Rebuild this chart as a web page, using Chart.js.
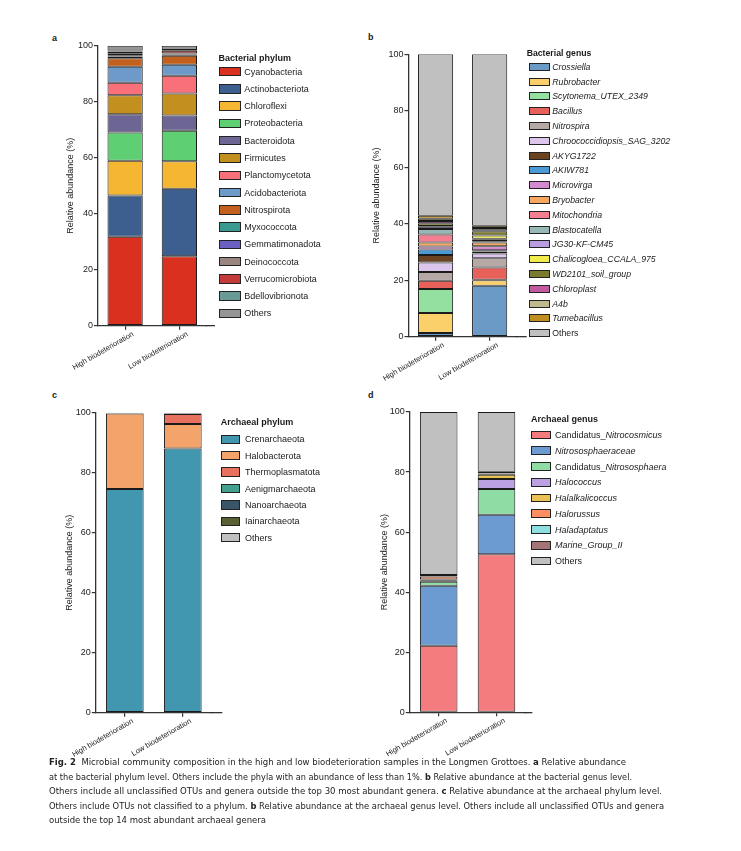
<!DOCTYPE html>
<html><head><meta charset="utf-8">
<script src="https://cdn.jsdelivr.net/npm/chart.js@4.4.1/dist/chart.umd.min.js"></script>
<style>
html,body{margin:0;padding:0;background:#fff;}
body{width:741px;height:851px;position:relative;overflow:hidden;font-family:"Liberation Sans",Arial,sans-serif;color:#1a1a1a;}
canvas{position:absolute;}
.plabel{position:absolute;font-weight:bold;font-size:9px;line-height:10px;}
.lt{position:absolute;font-weight:bold;white-space:nowrap;font-size:9px;height:12px;line-height:12px;}
.li{position:absolute;white-space:nowrap;font-size:9px;height:12px;line-height:12px;}
.bx{position:absolute;box-sizing:border-box;border:1px solid #222;}
.cap{position:absolute;white-space:nowrap;font-family:"Liberation Sans Narrow","DejaVu Sans Condensed",sans-serif;font-size:9.5px;line-height:12px;height:12px;transform-origin:0 50%;color:#222;}
</style></head><body>
<div class="plabel" style="left:52px;top:33px">a</div>
<div class="plabel" style="left:368px;top:32px">b</div>
<div class="plabel" style="left:52px;top:390px">c</div>
<div class="plabel" style="left:368px;top:390px">d</div>
<canvas id="ca"></canvas><canvas id="cb"></canvas><canvas id="cc"></canvas><canvas id="cd"></canvas>
<div id="legends"></div>
<div id="caption"></div>
<script>
// ---------- DATA ----------
const samples = ['High biodeterioration', 'Low biodeterioration'];
const yTicks = [0, 20, 40, 60, 80, 100];

// a: bacterial phylum
const phylumNames = ['Cyanobacteria','Actinobacteriota','Chloroflexi','Proteobacteria','Bacteroidota','Firmicutes','Planctomycetota','Acidobacteriota','Nitrospirota','Myxococcota','Gemmatimonadota','Deinococcota','Verrucomicrobiota','Bdellovibrionota','Others'];
const phylumHigh = [31.8, 14.7, 12.4, 10.1, 6.5, 6.8, 4.5, 5.7, 3.0, 0.6, 0.5, 0.7, 0.6, 0.4, 1.7];
const phylumLow  = [24.8, 24.1, 9.8, 10.9, 5.5, 7.8, 6.4, 3.9, 3.2, 0.3, 0.2, 0.3, 1.0, 0.3, 1.5];
const phylumColors = ['#d9301f','#3d5f8f','#f5b731','#5fcf74','#6d6593','#c39020','#f7707a','#6d9ac9','#c3601d','#3a9a91','#6b5fc2','#9a8580','#c33a3a','#6a9a96','#959595'];

// b: bacterial genus
const genusNames = ['Crossiella','Rubrobacter','Scytonema_UTEX_2349','Bacillus','Nitrospira','Chroococcidiopsis_SAG_3202','AKYG1722','AKIW781','Microvirga','Bryobacter','Mitochondria','Blastocatella','JG30-KF-CM45','Chalicogloea_CCALA_975','WD2101_soil_group','Chloroplast','A4b','Tumebacillus','Others'];
const genusHigh = [1.3, 7.1, 8.5, 2.9, 3.1, 3.4, 2.6, 2.0, 1.0, 1.5, 2.8, 1.9, 0.8, 0.3, 1.0, 0.8, 0.8, 1.0, 57.2];
const genusLow  = [18.0, 2.0, 0.2, 4.3, 3.3, 1.7, 0.7, 0.4, 1.4, 1.4, 0.4, 0.5, 0.4, 1.1, 1.5, 0.4, 0.8, 0.8, 60.7];
const genusColors = ['#6b9ac6','#fbd06b','#93e0a0','#e8605a','#b5a8a5','#dcc6ee','#6b4320','#4a9ad6','#d48ad1','#f6a860','#f47f90','#98b8b8','#b89de0','#f1ec4c','#7b7a2f','#c15a9e','#bdb98d','#c08d1f','#c0c0c0'];

// c: archaeal phylum
const archPhylumNames = ['Crenarchaeota','Halobacterota','Thermoplasmatota','Aenigmarchaeota','Nanoarchaeota','Iainarchaeota','Others'];
const archPhylumHigh = [74.6, 25.1, 0.1, 0.05, 0.05, 0.05, 0.05];
const archPhylumLow  = [88.1, 8.1, 3.4, 0.1, 0.1, 0.1, 0.1];
const archPhylumColors = ['#4197b0','#f4a46b','#e8705e','#44a08f','#3a5568','#5a6032','#c0c0c0'];

// d: archaeal genus
const archGenusNames = ['Candidatus_Nitrocosmicus','Nitrososphaeraceae','Candidatus_Nitrososphaera','Halococcus','Halalkalicoccus','Halorussus','Haladaptatus','Marine_Group_II','Others'];
const archGenusHigh = [22.2, 19.9, 1.4, 0.3, 0.4, 1.0, 0.2, 0.3, 54.3];
const archGenusLow  = [52.6, 13.2, 8.6, 3.3, 1.4, 0.3, 0.2, 0.5, 19.9];
const archGenusColors = ['#f47c7e','#6b9bd1','#8fdca4','#bba0e2','#ecc154','#fc8e62','#8ee0e0','#a67477','#c0c0c0'];

// ---------- CHARTS ----------
Chart.defaults.font.family = '"Liberation Sans", Arial, sans-serif';

// extends the x-axis baseline a little beyond the last category, as in the original figure
const axisExtend = {
  id: 'axisExtend',
  afterDraw(chart, args, opts) {
    const a = chart.chartArea, c = chart.ctx, lw = 1.3;
    const y = Math.round(a.bottom - lw / 2) + lw / 2;
    c.save();
    c.strokeStyle = '#333'; c.lineWidth = lw;
    c.beginPath(); c.moveTo(a.right - 1, y); c.lineTo(a.right + (opts.ext || 0), y); c.stroke();
    c.restore();
  }
};

function makePanel(id, rect, plot, names, high, low, colors, titlePad, ext) {
  const cv = document.getElementById(id);
  cv.style.left = rect.L + 'px'; cv.style.top = rect.T + 'px';
  cv.style.width = rect.W + 'px'; cv.style.height = rect.H + 'px';
  cv.width = rect.W; cv.height = rect.H;
  const yW = plot.l - rect.L, padTop = plot.t - rect.T, padRight = rect.L + rect.W - plot.r, xH = rect.T + rect.H - plot.b;
  new Chart(cv, {
    type: 'bar',
    plugins: [axisExtend],
    data: {
      labels: samples,
      datasets: names.map((n, i) => ({
        label: n, data: [high[i], low[i]],
        backgroundColor: colors[i], borderColor: '#1b1b1b', borderWidth: 1, borderSkipped: false,
        barPercentage: 0.65, categoryPercentage: 1
      }))
    },
    options: {
      responsive: false, animation: false,
      layout: { padding: { top: padTop, right: padRight, left: 0, bottom: 0 } },
      plugins: { legend: { display: false }, tooltip: { enabled: false }, axisExtend: { ext: ext } },
      scales: {
        x: {
          stacked: true, offset: true,
          grid: { offset: false, drawOnChartArea: false, drawTicks: true, tickLength: 4, color: '#333', lineWidth: 1.2 },
          border: { display: true, color: '#333', width: 1.3 },
          ticks: { minRotation: 30, maxRotation: 30, font: { size: 7.5 }, color: '#222', padding: 0, labelOffset: 8, autoSkip: false },
          afterFit: s => { s.height = xH; s.paddingLeft = 0; s.paddingRight = 0; }
        },
        y: {
          stacked: true, min: 0, max: 100,
          afterBuildTicks: s => { s.ticks = yTicks.map(v => ({ value: v })); },
          ticks: { font: { size: 9 }, color: '#222', padding: 1 },
          grid: { drawOnChartArea: false, tickLength: 4, color: '#333', lineWidth: 1.2 },
          border: { color: '#333', width: 1.3 },
          title: { display: true, text: 'Relative abundance (%)', font: { size: 9 }, color: '#222', padding: { top: titlePad, bottom: 0 } },
          afterFit: s => { s.width = yW; s.paddingTop = 0; s.paddingBottom = 0; }
        }
      }
    }
  });
}

makePanel('ca', {L:40, T:30, W:180, H:360}, {l:98, t:45.7, r:206.5, b:325.7}, phylumNames, phylumHigh, phylumLow, phylumColors, 25.1, 8.5);
makePanel('cb', {L:355, T:40, W:178, H:350}, {l:408.5, t:54.3, r:516.7, b:336.7}, genusNames, genusHigh, genusLow, genusColors, 16.1, 10);
makePanel('cc', {L:40, T:400, W:186, H:360}, {l:95.8, t:412.7, r:211.8, b:712.7}, archPhylumNames, archPhylumHigh, archPhylumLow, archPhylumColors, 24.3, 10.5);
makePanel('cd', {L:355, T:400, W:181, H:360}, {l:409.8, t:412, r:525.4, b:712.3}, archGenusNames, archGenusHigh, archGenusLow, archGenusColors, 23.9, 7);

// ---------- LEGENDS ----------
const legRoot = document.getElementById('legends');
function esc(s){return s.replace(/&/g,'&amp;').replace(/</g,'&lt;');}
function fmtB(n){ return n === 'Others' ? esc(n) : '<i>' + esc(n) + '</i>'; }
function fmtD(n){
  if (n === 'Others') return esc(n);
  if (n.startsWith('Candidatus_')) return 'Candidatus_<i>' + esc(n.slice(11)) + '</i>';
  return '<i>' + esc(n) + '</i>';
}
function legend(title, names, colors, g, fmt) {
  const t = document.createElement('div');
  t.className = 'lt'; t.textContent = title;
  t.style.left = g.titleL + 'px'; t.style.top = (g.titleY - 6) + 'px';
  if (g.fs) t.style.fontSize = g.fs + 'px';
  legRoot.appendChild(t);
  names.forEach((n, i) => {
    const cy = g.y0 + i * g.dy;
    const b = document.createElement('div');
    b.className = 'bx';
    b.style.left = g.boxL + 'px'; b.style.top = (cy - g.boxH / 2) + 'px';
    b.style.width = g.boxW + 'px'; b.style.height = g.boxH + 'px';
    b.style.background = colors[i];
    legRoot.appendChild(b);
    const tx = document.createElement('div');
    tx.className = 'li';
    tx.innerHTML = fmt ? fmt(n) : esc(n);
    tx.style.left = g.textL + 'px'; tx.style.top = (cy - 6) + 'px';
    if (g.fs) tx.style.fontSize = g.fs + 'px';
    legRoot.appendChild(tx);
  });
}
legend('Bacterial phylum', phylumNames, phylumColors, {titleL:218.5, titleY:57.7, boxL:219.3, boxW:21.4, boxH:9.5, textL:244.3, y0:71.7, dy:17.26});
legend('Bacterial genus', genusNames, genusColors, {titleL:526.7, titleY:53.3, boxL:529, boxW:20.5, boxH:8, textL:552.3, y0:66.7, dy:14.8, fs:8.7}, fmtB);
legend('Archaeal phylum', archPhylumNames, archPhylumColors, {titleL:220.7, titleY:422.3, boxL:220.7, boxW:19.8, boxH:9.5, textL:245, y0:439.3, dy:16.4});
legend('Archaeal genus', archGenusNames, archGenusColors, {titleL:531, titleY:419.3, boxL:531, boxW:20, boxH:8.8, textL:555, y0:435, dy:15.75}, fmtD);

// ---------- CAPTION ----------
const captionLines = [
  '<b>Fig. 2</b>&nbsp; Microbial community composition in the high and low biodeterioration samples in the Longmen Grottoes. <b>a</b> Relative abundance',
  'at the bacterial phylum level. Others include the phyla with an abundance of less than 1%. <b>b</b> Relative abundance at the bacterial genus level.',
  'Others include all unclassified OTUs and genera outside the top 30 most abundant genera. <b>c</b> Relative abundance at the archaeal phylum level.',
  'Others include OTUs not classified to a phylum. <b>b</b> Relative abundance at the archaeal genus level. Others include all unclassified OTUs and genera',
  'outside the top 14 most abundant archaeal genera'
];
const capY = [762, 776.5, 791, 805.5, 820];
const capEnd = [626, 632, 662, 664, 266];
const capRoot = document.getElementById('caption');
captionLines.forEach((h, i) => {
  const d = document.createElement('div');
  d.className = 'cap'; d.innerHTML = h;
  d.style.left = '49px'; d.style.top = (capY[i] - 6) + 'px';
  capRoot.appendChild(d);
  const w = d.getBoundingClientRect().width;
  d.style.transform = 'scaleX(' + ((capEnd[i] - 49) / w) + ')';
});
</script>
</body></html>
